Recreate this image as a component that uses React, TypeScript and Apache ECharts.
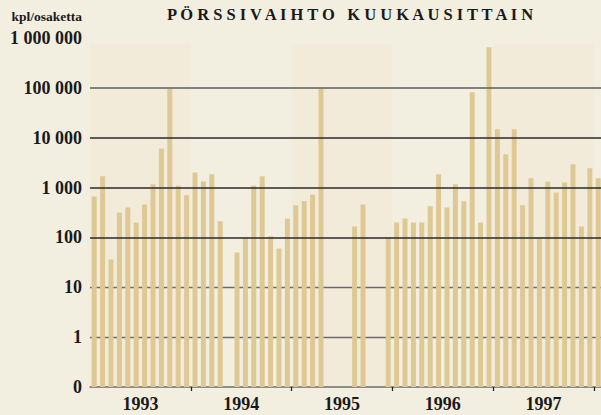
import React, { useEffect, useRef } from "react";
import * as echarts from "echarts";

// ---- data ----
const years = ["1993", "1994", "1995", "1996", "1997", "1998"];
const labelledYears = ["1993", "1994", "1995", "1996", "1997"];
const monthNames = ["01", "02", "03", "04", "05", "06", "07", "08", "09", "10", "11", "12"];
const months = years.flatMap((y) => monthNames.map((m) => `${y}-${m}`));

// shares traded per month (kpl/osaketta), null = no trading
const v1993 = [665, 1680, 36, 318, 400, 200, 460, 1160, 6100, 96000, 1100, 700];
const v1994 = [2000, 1330, 1840, 210, null, 50, 100, 1100, 1680, 105, 60, 240];
const v1995 = [440, 530, 730, 96000, null, null, null, 166, 460, null, null, 100];
const v1996 = [200, 240, 200, 200, 420, 1840, 400, 1160, 530, 81700, 200, 653000];
const v1997 = [14800, 4650, 14800, 440, 1530, 100, 1330, 800, 1270, 2920, 166, 2430];
const v1998 = [1530, null, null, null, null, null, null, null, null, null, null, null];
const values = [...v1993, ...v1994, ...v1995, ...v1996, ...v1997, ...v1998];

const shadedYears = ["1993", "1995", "1997"];
const solidGridValues = [100, 1000, 10000];
const topGridValue = 100000;
const dashedGridValues = [1, 10];

const TITLE = "P Ö R S S I V A I H T O\u00a0\u00a0 K U U K A U S I T T A I N";
const UNIT = "kpl/osaketta";

const BG = "#f2efe1";
const BAND = "#f3ebda";
const BAR = "#dec995";
const TEXT = "#1a1a1a";
const FONT = "'Liberation Serif', 'Times New Roman', serif";

function fmt(v: number): string {
  if (v < 0.5) return "0";
  return String(Math.round(v)).replace(/\B(?=(\d{3})+(?!\d))/g, " ");
}

export default function App() {
  const ref = useRef<HTMLDivElement>(null);

  useEffect(() => {
    if (!ref.current) return;
    const chart = echarts.init(ref.current, null, { renderer: "svg" });
    const bandData = shadedYears.map((y) => {
      const i = years.indexOf(y);
      return [
        { xAxis: i * 12, yAxis: 0.1 },
        { xAxis: (i + 1) * 12, yAxis: 780000 },
      ];
    });
    chart.setOption({
      animation: false,
      backgroundColor: BG,
      grid: { left: 90, top: 38, width: 604.8, height: 349 },
      xAxis: [
        {
          type: "category",
          data: months,
          position: "bottom",
          axisLine: { show: true, lineStyle: { color: "#6c6c6c", width: 1.5 } },
          axisTick: {
            show: true,
            interval: (i: number) => i > 0 && i % 12 === 0,
            length: 4,
            lineStyle: { color: "#222", width: 1.3 },
          },
          axisLabel: { show: false },
          splitLine: { show: false },
        },
        {
          type: "category",
          data: years,
          position: "bottom",
          axisLine: { show: false },
          axisTick: { show: false },
          axisLabel: {
            show: true,
            margin: 8,
            formatter: (v: string) => (labelledYears.includes(v) ? v : ""),
            fontFamily: FONT,
            fontWeight: "bold",
            fontSize: 18,
            color: TEXT,
          },
          splitLine: { show: false },
        },
        {
          type: "value",
          min: 0,
          max: months.length,
          show: false,
          position: "top",
        },
      ],
      yAxis: {
        type: "log",
        logBase: 10,
        min: 0.1,
        max: 1000000,
        startValue: 0.1,
        axisLine: { show: false },
        axisTick: { show: false },
        splitLine: { show: false },
        axisLabel: {
          formatter: (v: number) => fmt(v),
          margin: 8,
          padding: [8, 0, 0, 0],
          fontFamily: FONT,
          fontWeight: "bold",
          fontSize: 18,
          color: TEXT,
        },
      },
      graphic: [
        {
          type: "text",
          x: 350,
          y: 14.5,
          style: {
            text: TITLE,
            fontFamily: FONT,
            fontWeight: "bold",
            fontSize: 16.5,
            fill: TEXT,
            textAlign: "center",
            textVerticalAlign: "middle",
          },
        },
        {
          type: "text",
          x: 82,
          y: 16,
          style: {
            text: UNIT,
            fontFamily: FONT,
            fontWeight: "bold",
            fontSize: 13.5,
            fill: TEXT,
            textAlign: "right",
            textVerticalAlign: "middle",
          },
        },
      ],
      series: [
        {
          type: "line",
          xAxisIndex: 2,
          yAxisIndex: 0,
          data: [],
          silent: true,
          markArea: {
            silent: true,
            z: 0,
            itemStyle: { color: BAND },
            data: bandData,
          },
          markLine: {
            silent: true,
            z: 1,
            symbol: ["none", "none"],
            label: { show: false },
            lineStyle: { color: "#6b6b6b", width: 1.3, type: "solid" },
            data: dashedGridValues.map((v) => ({ yAxis: v })),
          },
        },
        {
          type: "bar",
          xAxisIndex: 0,
          yAxisIndex: 0,
          data: values,
          barWidth: 5,
          z: 2,
          itemStyle: { color: BAR },
          markLine: {
            silent: true,
            z: 5,
            symbol: ["none", "none"],
            label: { show: false },
            lineStyle: { color: "#2a2a2a", width: 1.6, type: "solid" },
            data: [
              ...solidGridValues.map((v) => ({ yAxis: v })),
              { yAxis: topGridValue, lineStyle: { color: "#5e5e5e", width: 1.6, type: "solid" } },
            ],
          },
        },
      ],
    });
    return () => chart.dispose();
  }, []);

  return (
    <div
      style={{
        position: "fixed",
        left: 0,
        top: 0,
        width: 601,
        height: 415,
        overflow: "hidden",
        background: BG,
      }}
    >
      <div ref={ref} style={{ width: 700, height: 415 }} />
    </div>
  );
}
